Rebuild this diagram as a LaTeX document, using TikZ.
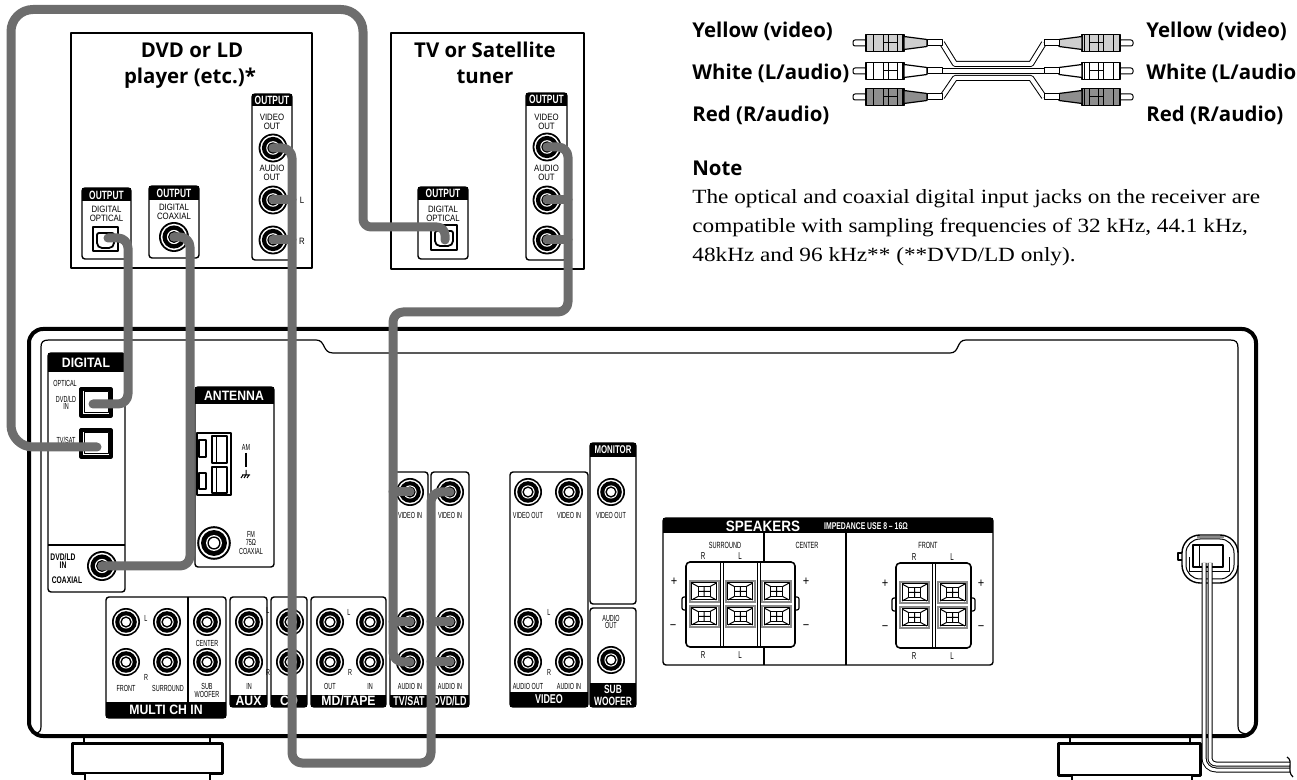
\documentclass[tikz,border=0pt]{standalone}
\usepackage{fontspec}
\setmainfont{Liberation Serif}[FakeStretch=1.15]
\newfontfamily\headfont{Open Sans}
\newfontfamily\hdrfont{Liberation Sans}[FakeStretch=0.9]
\newfontfamily\narrowfont{Liberation Sans}[FakeStretch=0.7]
\newfontfamily\lblfont{Liberation Sans}[FakeStretch=0.85]
\newfontfamily\tinyfont{Liberation Sans}[FakeStretch=0.62]
\usetikzlibrary{calc}
\newcommand{\ptsize}[1]{\fontsize{#1}{#1}\selectfont}
\definecolor{cablegray}{HTML}{6D6D6D}
\definecolor{plugyellow}{HTML}{CFCFCF}
\definecolor{plugred}{HTML}{8E8E8E}
\definecolor{termgray}{HTML}{8A8A8A}

\begin{document}
\begin{tikzpicture}[x=0.5pt, y=-0.5pt, line join=round,
		panelbox/.style={draw, line width=0.7pt, rounded corners=1.5pt, fill=white},
		hdrtext/.style={text=white, inner sep=0pt, font=\hdrfont\bfseries\ptsize{6.8}},
		nhdrtext/.style={text=white, inner sep=0pt, font=\narrowfont\bfseries\ptsize{6.4}},
		srchdr/.style={text=white, inner sep=0pt, font=\narrowfont\bfseries\ptsize{6}},
		srclbl/.style={inner sep=0pt, font=\lblfont\ptsize{4.6}},
		tinylbl/.style={inner sep=0pt, font=\tinyfont\ptsize{4.4}},
		boldlbl/.style={inner sep=0pt, font=\narrowfont\bfseries\ptsize{4.8}},
		signlbl/.style={inner sep=0pt, font=\lblfont\ptsize{6.5}},
		srctitle/.style={inner sep=0pt, font=\headfont\bfseries\ptsize{10.2}},
		notetext/.style={inner sep=0pt, anchor=base west, font=\rmfamily\ptsize{10.1}},
		cable/.style={draw=cablegray, line width=4.5pt, line cap=round, rounded corners=5pt},
		plugwire/.style={double=white, double distance=2pt, line width=0.5pt},
		jack/.pic={
			\fill (0,0) circle[radius=14];
			\fill[white] (0,0) circle[radius=12.3];
			\fill (0,0) circle[radius=10.8];
			\fill[white] (0,0) circle[radius=6.6];
			\draw[line width=0.7pt] (0,0) circle[radius=4.9];
		},
		spkterm/.pic={
			\fill[termgray] (-15.5,-11.5) rectangle (15.5,11.5);
			\fill[white] (-13.5,-9.5) rectangle (13.5,9.5);
			\draw[line width=0.5pt] (-12.5,-8.5) rectangle (12.5,8.5);
			\draw[line width=0.5pt] (-6,-5) rectangle (6,5);
			\draw[line width=0.5pt] (-12.5,-8.5) -- (-6,-5) (12.5,-8.5) -- (6,-5)
				(-12.5,8.5) -- (-6,5) (12.5,8.5) -- (6,5) (-6,0) -- (6,0) (0,-5) -- (0,5);
		},
		rcaplug/.pic={
			\draw[line width=0.5pt, fill=white, rounded corners=1pt] (0,-3) rectangle (14,3);
			\draw[line width=0.6pt, fill=#1] (13,-8.5) rectangle (51,8.5);
			\draw[line width=0.5pt] (20,-8.5) -- (20,8.5) (30,-8.5) -- (30,8.5) (35,-8.5) -- (35,8.5)
				(44,-8.5) -- (44,8.5) (49,-8.5) -- (49,8.5) (30,0) -- (44,0);
			\draw[line width=0.6pt, fill=#1] (51,-6.5) -- (74,-3.5) -- (74,3.5) -- (51,6.5) -- cycle;
			\draw[line width=0.5pt, fill=white] (74,-3) rectangle (89,3);
		}]
	\useasboundingbox (0,0) rectangle (1297,780);
	
	% ===== Receiver: feet and body =====
	\draw[line width=1.5pt, fill=white] (72,743) rectangle (222,773);
	\draw[line width=1.2pt, fill=white] (85,773) rectangle (210,786);
	\draw[line width=0.6pt] (84,737) rectangle (210,743);
	\draw[line width=1.5pt, fill=white] (1058,743) rectangle (1200,775);
	\draw[line width=1.2pt, fill=white] (1072,775) rectangle (1192,786);
	\draw[line width=0.6pt] (1070,737) rectangle (1190,743);
	\draw[line width=2pt, rounded corners=7pt, fill=white] (29,329) rectangle (1256,736);
	% inner edge with the notch at the top
	\draw[line width=0.6pt] (35,734) .. controls (40,732) and (41,731) .. (41,726) -- (41,347)
		.. controls (41,342) and (43,340) .. (49,340) -- (316,340)
		.. controls (326,340) and (322,353) .. (333,353) -- (950,353)
		.. controls (960,353) and (956,340) .. (966,340) -- (1230,340)
		.. controls (1236,340) and (1238,342) .. (1238,348) -- (1238,726)
		.. controls (1238,731) and (1240,733) .. (1246,734);
	
	% ===== DIGITAL panel =====
	\draw[panelbox] (48,353) rectangle (125,592);
	\fill (48,353) rectangle (125,372);
	\node[hdrtext] (hdrDigital) at (86,363) {DIGITAL};
	\draw[line width=0.7pt] (48,545) -- (125,545);
	\node[tinylbl, anchor=west] (lblOptical) at (53,383) {OPTICAL};
	\draw[line width=1.6pt] (81,389) rectangle (111,416);
	\draw[line width=0.5pt] (84,392) rectangle (108,413);
	\node[tinylbl, align=center] (lblOptDvd) at (66,403) {DVD/LD\\[-0.8pt]IN};
	\draw[line width=1.6pt] (81,430) rectangle (111,457);
	\draw[line width=0.5pt] (84,433) rectangle (108,454);
	\node[tinylbl] (lblOptTv) at (66,440) {TV/SAT};
	\pic[scale=1.07] at (102,566) {jack};
	\node[boldlbl, align=center] (lblCoaxIn) at (63,561) {DVD/LD\\[-1pt]IN};
	\node[boldlbl] (lblCoax) at (67,580) {COAXIAL};
	
	% ===== ANTENNA panel =====
	\draw[panelbox] (195,387) rectangle (274,567);
	\fill (195,387) rectangle (274,404);
	\node[hdrtext] (hdrAntenna) at (234,396) {ANTENNA};
	\draw[line width=0.9pt] (197,433) rectangle (231,495);
	\draw[line width=1.2pt] (199,440) rectangle (206,457) (199,473) rectangle (206,489);
	\draw[line width=0.8pt] (212,436) rectangle (227,463) (212,467) rectangle (227,493);
	\draw[line width=0.5pt] (216,436) -- (216,463) (216,467) -- (216,493);
	\node[tinylbl] (lblAm) at (246,447) {AM};
	\draw[line width=1pt] (246,453) -- (246,467);
	\draw[line width=0.5pt] (246,470) -- (246,475) (242,475) -- (250,475)
		(243,475) -- (241,478) (246,475) -- (244,478) (249,475) -- (247,478);
	\pic[scale=1.2] at (214,543) {jack};
	\node[tinylbl, align=center] (lblFm) at (251,543) {FM\\75Ω\\COAXIAL};
	
	% ===== jack panels along the bottom =====
	\draw[panelbox] (106,597) rectangle (226,718);
	\fill (106,702) rectangle (226,718);
	\draw[line width=0.7pt] (188,597) -- (188,702);
	\node[hdrtext] (hdrMulti) at (166,710) {MULTI CH IN};
	\draw[panelbox] (230,597) rectangle (267,707);
	\fill (230,695) rectangle (267,707);
	\node[hdrtext] (hdrAux) at (248.5,701) {AUX};
	\draw[panelbox] (271,597) rectangle (307,707);
	\fill (271,695) rectangle (307,707);
	\node[hdrtext] (hdrCd) at (289,701) {CD};
	\draw[panelbox] (311,597) rectangle (386,707);
	\fill (311,695) rectangle (386,707);
	\node[hdrtext] (hdrTape) at (348.5,701) {MD/TAPE};
	\draw[panelbox] (390,472) rectangle (428,707);
	\fill (390,695) rectangle (428,707);
	\node[nhdrtext] (hdrTvSat) at (409,701) {TV/SAT};
	\draw[panelbox] (431,472) rectangle (469,707);
	\fill (431,695) rectangle (469,707);
	\node[nhdrtext] (hdrDvdLd) at (450,701) {DVD/LD};
	\draw[panelbox] (510,472) rectangle (588,707);
	\fill (510,692) rectangle (588,707);
	\node[nhdrtext] (hdrVideo) at (549,699.5) {VIDEO};
	\draw[panelbox] (590,443) rectangle (636,604);
	\fill (590,443) rectangle (636,457);
	\node[nhdrtext, font=\narrowfont\bfseries\ptsize{5.6}] (hdrMonitor) at (613,450) {MONITOR};
	\draw[panelbox] (590,608) rectangle (636,707);
	\fill (590,683) rectangle (636,707);
	\node[nhdrtext, align=center, font=\narrowfont\bfseries\ptsize{6}] (hdrSub) at (613,695) {SUB\\WOOFER};
	
	\foreach \x/\y in {126/622, 167/622, 207/622, 126/662, 167/662, 207/662, 249/622, 249/662,
		290/622, 290/662, 330/622, 370/622, 330/662, 370/662, 410/492, 410/622, 410/662,
		450/492, 450/622, 450/662, 528/492, 569/492, 528/622, 569/622, 528/662, 569/662,
		611/492, 611/660}
		\pic at (\x,\y) {jack};
	
	\foreach \x/\y/\t [count=\i] in {146/618/L, 146/677/R, 126/688/FRONT, 168/688/SURROUND,
		207/643/CENTER, 207/686/SUB, 207/694/WOOFER, 268/610/L, 268/672/R, 249/686/IN,
		349/612/L, 350/672/R, 330/686/OUT, 370/686/IN, 410/515/VIDEO IN, 410/686/AUDIO IN,
		450/515/VIDEO IN, 450/686/AUDIO IN, 528/515/VIDEO OUT, 569/515/VIDEO IN, 549/612/L,
		549/672/R, 528/686/AUDIO OUT, 569/686/AUDIO IN, 611/515/VIDEO OUT, 611/618/AUDIO,
		611/625/OUT}
		\node[tinylbl] (rxlbl\i) at (\x,\y) {\t};
	
	% ===== SPEAKERS panel =====
	\draw[panelbox] (663,518) rectangle (993,665);
	\fill (663,518) rectangle (993,533);
	\node[hdrtext, font=\hdrfont\bfseries\ptsize{7.5}] (hdrSpeakers) at (763,526) {SPEAKERS};
	\node[nhdrtext, font=\narrowfont\bfseries\ptsize{4.9}] (hdrImpedance) at (866,526) {IMPEDANCE USE 8 – 16Ω};
	\draw[line width=0.7pt] (764,533) -- (764,665) (846,533) -- (846,665);
	\node[tinylbl, font=\tinyfont\ptsize{4.5}] (lblSurround) at (725,545) {SURROUND};
	\node[tinylbl, font=\tinyfont\ptsize{4.5}] (lblCenter) at (807,545) {CENTER};
	\node[tinylbl, font=\tinyfont\ptsize{4.5}] (lblFront) at (928,545) {FRONT};
	% surround and center terminals
	\draw[line width=0.6pt, rounded corners=1pt, fill=white] (686,597) -- (682,597) -- (682,610) -- (686,610);
	\draw[line width=0.6pt, rounded corners=1pt, fill=white] (795,597) -- (799,597) -- (799,610) -- (795,610);
	\draw[line width=0.8pt, rounded corners=2pt, fill=white] (686,562) rectangle (795,647);
	\foreach \xd in {722,758.5}
		\draw[line width=0.5pt] (\xd-1.5,562) -- (\xd-1.5,647) (\xd+1.5,562) -- (\xd+1.5,647);
	\foreach \xc in {704,740.3,776.7} {
		\pic at (\xc,591.5) {spkterm};
		\pic at (\xc,616.5) {spkterm};
	}
	% front terminals
	\draw[line width=0.6pt, rounded corners=1pt, fill=white] (896,598) -- (892,598) -- (892,611) -- (896,611);
	\draw[line width=0.6pt, rounded corners=1pt, fill=white] (971,598) -- (975,598) -- (975,611) -- (971,611);
	\draw[line width=0.8pt, rounded corners=2pt, fill=white] (896,563) rectangle (971,648);
	\draw[line width=0.5pt] (932,563) -- (932,648) (935,563) -- (935,648);
	\foreach \xc in {914.5,952.5} {
		\pic at (\xc,592.5) {spkterm};
		\pic at (\xc,617.5) {spkterm};
	}
	\foreach \x/\y/\t [count=\i] in {703/556/R, 740/556/L, 703/655/R, 740/655/L,
		914/557/R, 952/557/L, 914/656/R, 952/656/L}
		\node[tinylbl, font=\tinyfont\ptsize{5}] (spklbl\i) at (\x,\y) {\t};
	\foreach \x/\y/\t [count=\i] in {674/582/+, 806/582/+, 885/584/+, 981/584/+,
		673/627/−, 806/627/−, 885/628/−, 981/628/−}
		\node[signlbl] (sign\i) at (\x,\y) {\t};
	
	% ===== power cord =====
	\draw[line width=0.6pt, fill=white] (1182,553) -- (1178,553) -- (1178,560) -- (1182,560);
	\draw[line width=0.7pt, rounded corners=9pt, fill=white] (1182,535) rectangle (1238,583);
	\draw[line width=0.5pt, rounded corners=7pt] (1186,539) rectangle (1234,579);
	\draw[line width=1.2pt, termgray] (1197,537) -- (1224,537);
	\draw[line width=0.8pt] (1193,545) rectangle (1223,567);
	\draw[line width=0.5pt] (1199,545) -- (1199,567);
	\draw[line width=0.5pt] (1189,557) -- (1189,572) -- (1229,572) -- (1229,557);
	\draw[plugwire, double distance=1.5pt, rounded corners=6pt] (1204,563) |- (1290,770);
	\draw[plugwire, double distance=1.5pt, rounded corners=3pt] (1210,563) |- (1290,764);
	\draw[line width=0.6pt] (1287,757) .. controls (1294,761) and (1286,771) .. (1293,777);
	
	% ===== DVD or LD player =====
	\draw[line width=0.6pt] (71,33) rectangle (312,268);
	\node[srctitle, anchor=base] (dvdTitleA) at (192,58) {DVD or LD};
	\node[srctitle, anchor=base] (dvdTitleB) at (190,84) {player (etc.)*};
	\draw[panelbox] (82,188) rectangle (131,259);
	\fill (82,188) rectangle (131,201);
	\node[srchdr] (dvdOptHdr) at (106.5,195) {OUTPUT};
	\node[srclbl, align=center] (dvdOptLbl) at (106.5,213.5) {DIGITAL\\OPTICAL};
	\draw[line width=0.6pt] (93,227) rectangle (118,251);
	\draw[line width=0.9pt, rounded corners=1pt] (97,233) -- (114,233) -- (114,245) -- (111,248) -- (100,248) -- (97,245) -- cycle;
	\draw[panelbox] (149,186) rectangle (199,258);
	\fill (149,186) rectangle (199,200);
	\node[srchdr] (dvdCoaxHdr) at (174,193) {OUTPUT};
	\node[srclbl, align=center] (dvdCoaxLbl) at (174,211.5) {DIGITAL\\COAXIAL};
	\pic[scale=1.07] at (174,237) {jack};
	\draw[panelbox] (252,94) rectangle (292,260);
	\fill (252,94) rectangle (292,106);
	\node[srchdr] (dvdAvHdr) at (272,100) {OUTPUT};
	\node[srclbl, align=center] (dvdVidLbl) at (272,121.5) {VIDEO\\OUT};
	\node[srclbl, align=center] (dvdAudLbl) at (272,173) {AUDIO\\OUT};
	\foreach \y in {148,200,240}
		\pic[scale=1.03] at (273,\y) {jack};
	\node[srclbl] (dvdLlbl) at (302,200) {L};
	\node[srclbl] (dvdRlbl) at (302,241) {R};
	
	% ===== TV or Satellite tuner =====
	\draw[line width=0.6pt] (391,33) rectangle (584,269);
	\node[srctitle, anchor=base] (tvTitleA) at (485,58) {TV or Satellite};
	\node[srctitle, anchor=base] (tvTitleB) at (485,84) {tuner};
	\draw[panelbox] (418,187) rectangle (468,259);
	\fill (418,187) rectangle (468,200);
	\node[srchdr] (tvOptHdr) at (443,193.5) {OUTPUT};
	\node[srclbl, align=center] (tvOptLbl) at (443,213.5) {DIGITAL\\OPTICAL};
	\draw[line width=0.6pt] (431,225) rectangle (457,250);
	\draw[line width=0.9pt, rounded corners=1pt] (435,231) -- (453,231) -- (453,243) -- (450,246) -- (438,246) -- (435,243) -- cycle;
	\draw[panelbox] (526,93) rectangle (567,260);
	\fill (526,93) rectangle (567,106);
	\node[srchdr] (tvAvHdr) at (546.5,99.5) {OUTPUT};
	\node[srclbl, align=center] (tvVidLbl) at (546.5,121.5) {VIDEO\\OUT};
	\node[srclbl, align=center] (tvAudLbl) at (546.5,173) {AUDIO\\OUT};
	\foreach \y in {147,200,240}
		\pic[scale=1.03] at (547,\y) {jack};
	
	% ===== cables =====
	\coordinate (dvdOpt) at (108,238);
	\coordinate (dvdCoax) at (174,237);
	\coordinate (dvdVid) at (273,148);
	\coordinate (dvdAL) at (273,200);
	\coordinate (dvdAR) at (273,240);
	\coordinate (tvOpt) at (445,240);
	\coordinate (tvVid) at (547,147);
	\coordinate (tvAL) at (547,200);
	\coordinate (tvAR) at (547,240);
	\coordinate (rxOptDvd) at (93,404);
	\coordinate (rxOptTv) at (97,447);
	\coordinate (rxCoax) at (102,566);
	\coordinate (rxTvVid) at (410,492);
	\coordinate (rxTvL) at (410,622);
	\coordinate (rxTvR) at (410,662);
	\coordinate (rxDvdVid) at (450,492);
	\coordinate (rxDvdL) at (450,622);
	\coordinate (rxDvdR) at (450,662);
	\coordinate (dvdDrop) at (292,763);
	\coordinate (dvdRise) at (431,763);
	\coordinate (tvDrop) at (568,312);
	\coordinate (tvRise) at (393,312);
	
	\draw[cable, rounded corners=4pt] (tvOpt) |- (363,227) [rounded corners=11pt] -- (363,9.5) -- (11,9.5) |- (rxOptTv);
	\draw[cable] (dvdOpt) -| (128,404) -- (rxOptDvd);
	\draw[cable] (dvdCoax) -| (190,566) -- (rxCoax);
	\draw[cable] (dvdVid) -| (dvdDrop) -- (dvdRise) |- (rxDvdVid);
	\draw[cable] (dvdAL) -- (dvdAL -| dvdDrop);
	\draw[cable] (dvdAR) -- (dvdAR -| dvdDrop);
	\draw[cable] (rxDvdL -| dvdRise) -- (rxDvdL);
	\draw[cable] (rxDvdR -| dvdRise) -- (rxDvdR);
	\draw[cable] (tvVid) -| (tvDrop) -- (tvRise) |- (rxTvR);
	\draw[cable] (tvAL) -- (tvAL -| tvDrop);
	\draw[cable] (tvAR) -- (tvAR -| tvDrop);
	\draw[cable] (rxTvVid -| tvRise) -- (rxTvVid);
	\draw[cable] (rxTvL -| tvRise) -- (rxTvL);
	
	% ===== pin cord legend =====
	\node[srctitle, anchor=base west] (lblYellowL) at (692,37.5) {Yellow (video)};
	\node[srctitle, anchor=base west] (lblWhiteL) at (692,80) {White (L/audio)};
	\node[srctitle, anchor=base west] (lblRedL) at (692,122) {Red (R/audio)};
	\node[srctitle, anchor=base west] (lblYellowR) at (1146,37.5) {Yellow (video)};
	\node[srctitle, anchor=base west] (lblWhiteR) at (1146,80) {White (L/audio)};
	\node[srctitle, anchor=base west] (lblRedR) at (1146,122) {Red (R/audio)};
	\draw[plugwire] (942,43) -- (955,64) -- (1031,64) -- (1044,43);
	\draw[plugwire] (942,97) -- (955,78) -- (1031,78) -- (1044,97);
	\draw[plugwire] (942,71) -- (1044,71);
	\pic at (853,43) {rcaplug=plugyellow};
	\pic at (853,71) {rcaplug=white};
	\pic at (853,97) {rcaplug=plugred};
	\pic[xscale=-1] at (1133,43) {rcaplug=plugyellow};
	\pic[xscale=-1] at (1133,71) {rcaplug=white};
	\pic[xscale=-1] at (1133,97) {rcaplug=plugred};
	
	% ===== note =====
	\node[srctitle, anchor=base west] (noteHead) at (692,176) {Note};
	\node[notetext] (noteA) at (692,204) {The optical and coaxial digital input jacks on the receiver are};
	\node[notetext] (noteB) at (692,233) {compatible with sampling frequencies of 32 kHz, 44.1 kHz,};
	\node[notetext] (noteC) at (692,262) {48kHz and 96 kHz** (**DVD/LD only).};
	
\end{tikzpicture}
\end{document}
